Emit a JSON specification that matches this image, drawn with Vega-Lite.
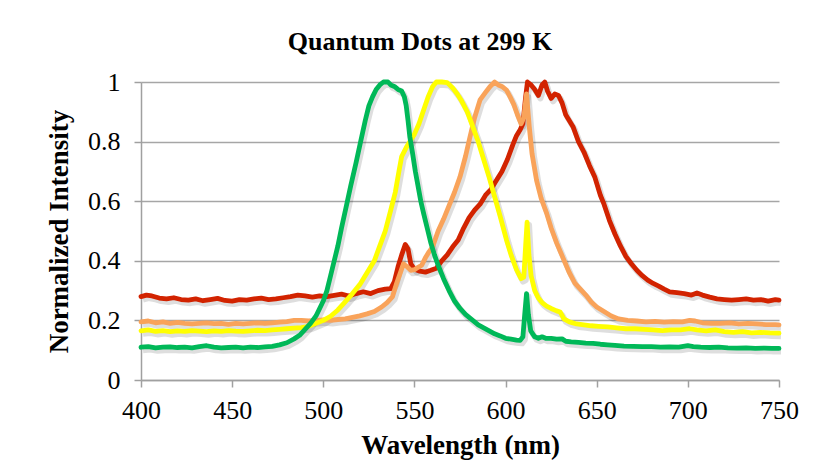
{
  "$schema": "https://vega.github.io/schema/vega-lite/v6.json",
  "width": 638,
  "height": 298,
  "autosize": "none",
  "padding": {"left": 141, "top": 82, "right": 38, "bottom": 88},
  "background": "white",
  "title": {
    "text": "Quantum Dots at 299 K",
    "font": "Liberation Serif",
    "fontSize": 26,
    "fontWeight": "bold",
    "color": "black",
    "anchor": "middle",
    "dx": -40,
    "baseline": "alphabetic",
    "offset": -7
  },
  "config": {
    "view": {"stroke": null},
    "axis": {
      "labelFont": "Liberation Serif",
      "labelFontSize": 26,
      "labelColor": "black",
      "labelFlush": false,
      "titleFont": "Liberation Serif",
      "titleFontSize": 27,
      "titleFontWeight": "bold",
      "titleColor": "black",
      "domainColor": "#a0a0a0",
      "domainWidth": 1.5,
      "tickColor": "#a0a0a0",
      "tickWidth": 1.5,
      "tickSize": 7,
      "gridColor": "#a6a6a6",
      "gridWidth": 1.5
    }
  },
  "data": {
    "values": [
      {"d":"Red","w":400,"i":0.28},{"d":"Red","w":403,"i":0.285},{"d":"Red","w":406,"i":0.282},{"d":"Red","w":410,"i":0.275},{"d":"Red","w":414,"i":0.272},{"d":"Red","w":418,"i":0.276},{"d":"Red","w":422,"i":0.27},{"d":"Red","w":426,"i":0.268},{"d":"Red","w":430,"i":0.272},{"d":"Red","w":434,"i":0.266},{"d":"Red","w":438,"i":0.27},{"d":"Red","w":442,"i":0.274},{"d":"Red","w":446,"i":0.267},{"d":"Red","w":450,"i":0.265},{"d":"Red","w":454,"i":0.27},{"d":"Red","w":458,"i":0.268},{"d":"Red","w":462,"i":0.272},{"d":"Red","w":466,"i":0.275},{"d":"Red","w":470,"i":0.27},{"d":"Red","w":474,"i":0.272},{"d":"Red","w":478,"i":0.276},{"d":"Red","w":482,"i":0.28},{"d":"Red","w":486,"i":0.285},{"d":"Red","w":490,"i":0.282},{"d":"Red","w":494,"i":0.278},{"d":"Red","w":498,"i":0.282},{"d":"Red","w":502,"i":0.28},{"d":"Red","w":506,"i":0.284},{"d":"Red","w":510,"i":0.288},{"d":"Red","w":514,"i":0.282},{"d":"Red","w":518,"i":0.29},{"d":"Red","w":522,"i":0.296},{"d":"Red","w":526,"i":0.29},{"d":"Red","w":530,"i":0.3},{"d":"Red","w":534,"i":0.305},{"d":"Red","w":537,"i":0.307},{"d":"Red","w":539,"i":0.33},{"d":"Red","w":541,"i":0.38},{"d":"Red","w":543,"i":0.42},{"d":"Red","w":545,"i":0.455},{"d":"Red","w":546.5,"i":0.44},{"d":"Red","w":548,"i":0.39},{"d":"Red","w":550,"i":0.372},{"d":"Red","w":553,"i":0.365},{"d":"Red","w":556,"i":0.362},{"d":"Red","w":559,"i":0.368},{"d":"Red","w":562,"i":0.375},{"d":"Red","w":565,"i":0.4},{"d":"Red","w":568,"i":0.42},{"d":"Red","w":571,"i":0.447},{"d":"Red","w":574,"i":0.47},{"d":"Red","w":577,"i":0.51},{"d":"Red","w":580,"i":0.545},{"d":"Red","w":583,"i":0.57},{"d":"Red","w":586,"i":0.59},{"d":"Red","w":589,"i":0.62},{"d":"Red","w":592,"i":0.64},{"d":"Red","w":595,"i":0.67},{"d":"Red","w":598,"i":0.7},{"d":"Red","w":601,"i":0.74},{"d":"Red","w":604,"i":0.79},{"d":"Red","w":606,"i":0.82},{"d":"Red","w":608,"i":0.84},{"d":"Red","w":609.5,"i":0.86},{"d":"Red","w":611,"i":0.95},{"d":"Red","w":612,"i":1.0},{"d":"Red","w":614,"i":0.99},{"d":"Red","w":616,"i":0.975},{"d":"Red","w":618,"i":0.955},{"d":"Red","w":620,"i":0.99},{"d":"Red","w":621.5,"i":1.0},{"d":"Red","w":623,"i":0.97},{"d":"Red","w":625,"i":0.945},{"d":"Red","w":627,"i":0.96},{"d":"Red","w":629,"i":0.955},{"d":"Red","w":631,"i":0.93},{"d":"Red","w":633,"i":0.89},{"d":"Red","w":635,"i":0.87},{"d":"Red","w":637,"i":0.85},{"d":"Red","w":640,"i":0.8},{"d":"Red","w":643,"i":0.765},{"d":"Red","w":646,"i":0.72},{"d":"Red","w":649,"i":0.68},{"d":"Red","w":652,"i":0.62},{"d":"Red","w":654,"i":0.59},{"d":"Red","w":657,"i":0.535},{"d":"Red","w":660,"i":0.49},{"d":"Red","w":663,"i":0.45},{"d":"Red","w":666,"i":0.415},{"d":"Red","w":669,"i":0.39},{"d":"Red","w":672,"i":0.368},{"d":"Red","w":675,"i":0.35},{"d":"Red","w":678,"i":0.335},{"d":"Red","w":681,"i":0.324},{"d":"Red","w":684,"i":0.315},{"d":"Red","w":687,"i":0.305},{"d":"Red","w":690,"i":0.296},{"d":"Red","w":694,"i":0.293},{"d":"Red","w":698,"i":0.29},{"d":"Red","w":702,"i":0.285},{"d":"Red","w":705,"i":0.292},{"d":"Red","w":708,"i":0.285},{"d":"Red","w":712,"i":0.278},{"d":"Red","w":716,"i":0.272},{"d":"Red","w":720,"i":0.27},{"d":"Red","w":724,"i":0.268},{"d":"Red","w":728,"i":0.27},{"d":"Red","w":732,"i":0.272},{"d":"Red","w":736,"i":0.268},{"d":"Red","w":740,"i":0.27},{"d":"Red","w":744,"i":0.265},{"d":"Red","w":748,"i":0.27},{"d":"Red","w":750,"i":0.268},

      {"d":"Orange","w":400,"i":0.195},{"d":"Orange","w":404,"i":0.198},{"d":"Orange","w":408,"i":0.192},{"d":"Orange","w":412,"i":0.195},{"d":"Orange","w":416,"i":0.19},{"d":"Orange","w":420,"i":0.193},{"d":"Orange","w":424,"i":0.19},{"d":"Orange","w":428,"i":0.188},{"d":"Orange","w":432,"i":0.19},{"d":"Orange","w":436,"i":0.192},{"d":"Orange","w":440,"i":0.189},{"d":"Orange","w":444,"i":0.19},{"d":"Orange","w":448,"i":0.187},{"d":"Orange","w":452,"i":0.19},{"d":"Orange","w":456,"i":0.188},{"d":"Orange","w":460,"i":0.19},{"d":"Orange","w":464,"i":0.192},{"d":"Orange","w":468,"i":0.19},{"d":"Orange","w":472,"i":0.192},{"d":"Orange","w":476,"i":0.194},{"d":"Orange","w":480,"i":0.196},{"d":"Orange","w":484,"i":0.2},{"d":"Orange","w":488,"i":0.2},{"d":"Orange","w":492,"i":0.198},{"d":"Orange","w":496,"i":0.2},{"d":"Orange","w":500,"i":0.202},{"d":"Orange","w":504,"i":0.2},{"d":"Orange","w":508,"i":0.203},{"d":"Orange","w":512,"i":0.205},{"d":"Orange","w":516,"i":0.21},{"d":"Orange","w":520,"i":0.215},{"d":"Orange","w":524,"i":0.222},{"d":"Orange","w":528,"i":0.23},{"d":"Orange","w":532,"i":0.245},{"d":"Orange","w":535,"i":0.26},{"d":"Orange","w":538,"i":0.28},{"d":"Orange","w":540,"i":0.32},{"d":"Orange","w":542,"i":0.355},{"d":"Orange","w":544,"i":0.39},{"d":"Orange","w":546,"i":0.38},{"d":"Orange","w":548,"i":0.368},{"d":"Orange","w":550,"i":0.37},{"d":"Orange","w":552,"i":0.378},{"d":"Orange","w":554,"i":0.385},{"d":"Orange","w":556,"i":0.41},{"d":"Orange","w":558,"i":0.43},{"d":"Orange","w":560,"i":0.447},{"d":"Orange","w":563,"i":0.5},{"d":"Orange","w":566,"i":0.54},{"d":"Orange","w":569,"i":0.585},{"d":"Orange","w":572,"i":0.63},{"d":"Orange","w":575,"i":0.682},{"d":"Orange","w":578,"i":0.75},{"d":"Orange","w":580.5,"i":0.816},{"d":"Orange","w":583,"i":0.88},{"d":"Orange","w":586,"i":0.94},{"d":"Orange","w":589,"i":0.965},{"d":"Orange","w":591.5,"i":0.985},{"d":"Orange","w":594,"i":1.0},{"d":"Orange","w":596,"i":0.99},{"d":"Orange","w":598,"i":0.985},{"d":"Orange","w":600.5,"i":0.973},{"d":"Orange","w":602.5,"i":0.95},{"d":"Orange","w":604.5,"i":0.925},{"d":"Orange","w":606.5,"i":0.89},{"d":"Orange","w":608.5,"i":0.86},{"d":"Orange","w":610,"i":0.88},{"d":"Orange","w":611.5,"i":0.96},{"d":"Orange","w":613,"i":0.85},{"d":"Orange","w":614.5,"i":0.76},{"d":"Orange","w":617,"i":0.67},{"d":"Orange","w":619.5,"i":0.61},{"d":"Orange","w":622.5,"i":0.56},{"d":"Orange","w":625,"i":0.51},{"d":"Orange","w":628,"i":0.46},{"d":"Orange","w":631.5,"i":0.41},{"d":"Orange","w":635,"i":0.36},{"d":"Orange","w":638,"i":0.325},{"d":"Orange","w":641,"i":0.305},{"d":"Orange","w":644,"i":0.285},{"d":"Orange","w":647,"i":0.262},{"d":"Orange","w":650,"i":0.245},{"d":"Orange","w":654,"i":0.23},{"d":"Orange","w":658,"i":0.215},{"d":"Orange","w":662,"i":0.205},{"d":"Orange","w":667,"i":0.2},{"d":"Orange","w":672,"i":0.198},{"d":"Orange","w":677,"i":0.195},{"d":"Orange","w":682,"i":0.197},{"d":"Orange","w":687,"i":0.194},{"d":"Orange","w":692,"i":0.196},{"d":"Orange","w":697,"i":0.195},{"d":"Orange","w":701,"i":0.2},{"d":"Orange","w":704,"i":0.198},{"d":"Orange","w":708,"i":0.192},{"d":"Orange","w":713,"i":0.19},{"d":"Orange","w":718,"i":0.19},{"d":"Orange","w":723,"i":0.192},{"d":"Orange","w":728,"i":0.188},{"d":"Orange","w":733,"i":0.19},{"d":"Orange","w":738,"i":0.188},{"d":"Orange","w":743,"i":0.186},{"d":"Orange","w":748,"i":0.186},{"d":"Orange","w":750,"i":0.185},

      {"d":"Yellow","w":400,"i":0.165},{"d":"Yellow","w":404,"i":0.168},{"d":"Yellow","w":408,"i":0.163},{"d":"Yellow","w":412,"i":0.166},{"d":"Yellow","w":416,"i":0.162},{"d":"Yellow","w":420,"i":0.165},{"d":"Yellow","w":424,"i":0.163},{"d":"Yellow","w":428,"i":0.166},{"d":"Yellow","w":432,"i":0.164},{"d":"Yellow","w":436,"i":0.162},{"d":"Yellow","w":440,"i":0.165},{"d":"Yellow","w":444,"i":0.163},{"d":"Yellow","w":448,"i":0.166},{"d":"Yellow","w":452,"i":0.164},{"d":"Yellow","w":456,"i":0.163},{"d":"Yellow","w":460,"i":0.165},{"d":"Yellow","w":464,"i":0.167},{"d":"Yellow","w":468,"i":0.166},{"d":"Yellow","w":472,"i":0.168},{"d":"Yellow","w":476,"i":0.17},{"d":"Yellow","w":480,"i":0.172},{"d":"Yellow","w":484,"i":0.174},{"d":"Yellow","w":488,"i":0.176},{"d":"Yellow","w":492,"i":0.18},{"d":"Yellow","w":496,"i":0.19},{"d":"Yellow","w":500,"i":0.2},{"d":"Yellow","w":504,"i":0.214},{"d":"Yellow","w":508,"i":0.235},{"d":"Yellow","w":512,"i":0.262},{"d":"Yellow","w":516,"i":0.29},{"d":"Yellow","w":520,"i":0.32},{"d":"Yellow","w":524,"i":0.36},{"d":"Yellow","w":528,"i":0.4},{"d":"Yellow","w":531,"i":0.45},{"d":"Yellow","w":534,"i":0.5},{"d":"Yellow","w":537,"i":0.57},{"d":"Yellow","w":539.5,"i":0.63},{"d":"Yellow","w":541.5,"i":0.7},{"d":"Yellow","w":543,"i":0.75},{"d":"Yellow","w":545.5,"i":0.78},{"d":"Yellow","w":548,"i":0.805},{"d":"Yellow","w":550,"i":0.825},{"d":"Yellow","w":552.5,"i":0.86},{"d":"Yellow","w":555,"i":0.905},{"d":"Yellow","w":557.5,"i":0.95},{"d":"Yellow","w":560,"i":0.985},{"d":"Yellow","w":562,"i":1.0},{"d":"Yellow","w":565,"i":1.0},{"d":"Yellow","w":568,"i":0.998},{"d":"Yellow","w":571,"i":0.98},{"d":"Yellow","w":573.5,"i":0.96},{"d":"Yellow","w":576,"i":0.935},{"d":"Yellow","w":579,"i":0.9},{"d":"Yellow","w":582,"i":0.85},{"d":"Yellow","w":585,"i":0.8},{"d":"Yellow","w":588,"i":0.74},{"d":"Yellow","w":591,"i":0.68},{"d":"Yellow","w":594,"i":0.615},{"d":"Yellow","w":597,"i":0.55},{"d":"Yellow","w":600.5,"i":0.47},{"d":"Yellow","w":603,"i":0.42},{"d":"Yellow","w":606,"i":0.37},{"d":"Yellow","w":608.5,"i":0.34},{"d":"Yellow","w":610,"i":0.345},{"d":"Yellow","w":611,"i":0.45},{"d":"Yellow","w":611.8,"i":0.53},{"d":"Yellow","w":612.8,"i":0.42},{"d":"Yellow","w":614,"i":0.35},{"d":"Yellow","w":616,"i":0.3},{"d":"Yellow","w":618,"i":0.275},{"d":"Yellow","w":620,"i":0.26},{"d":"Yellow","w":622.5,"i":0.248},{"d":"Yellow","w":625,"i":0.24},{"d":"Yellow","w":628,"i":0.232},{"d":"Yellow","w":630,"i":0.228},{"d":"Yellow","w":632,"i":0.205},{"d":"Yellow","w":635,"i":0.195},{"d":"Yellow","w":639,"i":0.188},{"d":"Yellow","w":643,"i":0.185},{"d":"Yellow","w":647,"i":0.182},{"d":"Yellow","w":651,"i":0.18},{"d":"Yellow","w":656,"i":0.178},{"d":"Yellow","w":661,"i":0.175},{"d":"Yellow","w":666,"i":0.172},{"d":"Yellow","w":671,"i":0.172},{"d":"Yellow","w":676,"i":0.17},{"d":"Yellow","w":681,"i":0.168},{"d":"Yellow","w":686,"i":0.166},{"d":"Yellow","w":691,"i":0.168},{"d":"Yellow","w":696,"i":0.168},{"d":"Yellow","w":701,"i":0.172},{"d":"Yellow","w":705,"i":0.168},{"d":"Yellow","w":710,"i":0.165},{"d":"Yellow","w":715,"i":0.168},{"d":"Yellow","w":720,"i":0.162},{"d":"Yellow","w":725,"i":0.16},{"d":"Yellow","w":730,"i":0.162},{"d":"Yellow","w":735,"i":0.158},{"d":"Yellow","w":740,"i":0.16},{"d":"Yellow","w":745,"i":0.158},{"d":"Yellow","w":750,"i":0.157},

      {"d":"Green","w":400,"i":0.11},{"d":"Green","w":404,"i":0.112},{"d":"Green","w":408,"i":0.108},{"d":"Green","w":412,"i":0.11},{"d":"Green","w":416,"i":0.111},{"d":"Green","w":420,"i":0.109},{"d":"Green","w":424,"i":0.11},{"d":"Green","w":428,"i":0.108},{"d":"Green","w":432,"i":0.112},{"d":"Green","w":436,"i":0.115},{"d":"Green","w":440,"i":0.11},{"d":"Green","w":444,"i":0.108},{"d":"Green","w":448,"i":0.109},{"d":"Green","w":452,"i":0.11},{"d":"Green","w":456,"i":0.108},{"d":"Green","w":460,"i":0.11},{"d":"Green","w":464,"i":0.109},{"d":"Green","w":468,"i":0.111},{"d":"Green","w":472,"i":0.113},{"d":"Green","w":476,"i":0.118},{"d":"Green","w":480,"i":0.125},{"d":"Green","w":484,"i":0.138},{"d":"Green","w":487,"i":0.15},{"d":"Green","w":490,"i":0.17},{"d":"Green","w":493,"i":0.19},{"d":"Green","w":496,"i":0.215},{"d":"Green","w":498,"i":0.24},{"d":"Green","w":500,"i":0.265},{"d":"Green","w":502,"i":0.3},{"d":"Green","w":504,"i":0.35},{"d":"Green","w":506,"i":0.4},{"d":"Green","w":508,"i":0.45},{"d":"Green","w":510,"i":0.51},{"d":"Green","w":512.5,"i":0.58},{"d":"Green","w":515,"i":0.65},{"d":"Green","w":518,"i":0.73},{"d":"Green","w":520.5,"i":0.8},{"d":"Green","w":523,"i":0.87},{"d":"Green","w":525,"i":0.92},{"d":"Green","w":527,"i":0.95},{"d":"Green","w":529,"i":0.975},{"d":"Green","w":531,"i":0.99},{"d":"Green","w":533,"i":1.0},{"d":"Green","w":535.5,"i":1.0},{"d":"Green","w":537,"i":0.99},{"d":"Green","w":539,"i":0.985},{"d":"Green","w":541,"i":0.975},{"d":"Green","w":543,"i":0.97},{"d":"Green","w":544.5,"i":0.95},{"d":"Green","w":545.5,"i":0.92},{"d":"Green","w":546.5,"i":0.87},{"d":"Green","w":547.5,"i":0.815},{"d":"Green","w":549,"i":0.76},{"d":"Green","w":550.5,"i":0.7},{"d":"Green","w":552,"i":0.65},{"d":"Green","w":553.5,"i":0.6},{"d":"Green","w":555,"i":0.56},{"d":"Green","w":557,"i":0.51},{"d":"Green","w":559,"i":0.46},{"d":"Green","w":561,"i":0.42},{"d":"Green","w":563,"i":0.385},{"d":"Green","w":566,"i":0.34},{"d":"Green","w":569,"i":0.3},{"d":"Green","w":572,"i":0.265},{"d":"Green","w":575,"i":0.24},{"d":"Green","w":578,"i":0.22},{"d":"Green","w":582,"i":0.2},{"d":"Green","w":585,"i":0.185},{"d":"Green","w":588,"i":0.175},{"d":"Green","w":591,"i":0.165},{"d":"Green","w":594,"i":0.155},{"d":"Green","w":597,"i":0.148},{"d":"Green","w":600,"i":0.14},{"d":"Green","w":603,"i":0.137},{"d":"Green","w":606,"i":0.134},{"d":"Green","w":608,"i":0.133},{"d":"Green","w":609.5,"i":0.145},{"d":"Green","w":610.5,"i":0.22},{"d":"Green","w":611.5,"i":0.29},{"d":"Green","w":612.5,"i":0.22},{"d":"Green","w":613.8,"i":0.165},{"d":"Green","w":616,"i":0.145},{"d":"Green","w":618,"i":0.14},{"d":"Green","w":620,"i":0.145},{"d":"Green","w":622,"i":0.14},{"d":"Green","w":625,"i":0.14},{"d":"Green","w":628,"i":0.137},{"d":"Green","w":631,"i":0.138},{"d":"Green","w":633,"i":0.13},{"d":"Green","w":636,"i":0.128},{"d":"Green","w":640,"i":0.126},{"d":"Green","w":644,"i":0.124},{"d":"Green","w":648,"i":0.123},{"d":"Green","w":652,"i":0.12},{"d":"Green","w":656,"i":0.118},{"d":"Green","w":660,"i":0.116},{"d":"Green","w":665,"i":0.114},{"d":"Green","w":670,"i":0.113},{"d":"Green","w":675,"i":0.112},{"d":"Green","w":680,"i":0.112},{"d":"Green","w":685,"i":0.11},{"d":"Green","w":690,"i":0.111},{"d":"Green","w":695,"i":0.11},{"d":"Green","w":700,"i":0.115},{"d":"Green","w":703,"i":0.112},{"d":"Green","w":707,"i":0.11},{"d":"Green","w":712,"i":0.109},{"d":"Green","w":717,"i":0.11},{"d":"Green","w":722,"i":0.108},{"d":"Green","w":727,"i":0.107},{"d":"Green","w":732,"i":0.108},{"d":"Green","w":737,"i":0.106},{"d":"Green","w":742,"i":0.107},{"d":"Green","w":746,"i":0.106},{"d":"Green","w":750,"i":0.106}
    ]
  },
  "encoding": {
    "x": {
      "field": "w",
      "type": "quantitative",
      "scale": {"domain": [400, 750], "nice": false},
      "axis": {
        "title": "Wavelength (nm)",
        "values": [400, 450, 500, 550, 600, 650, 700, 750],
        "grid": false,
        "labelPadding": 10,
        "titlePadding": 9
      }
    },
    "y": {
      "field": "i",
      "type": "quantitative",
      "scale": {"domain": [0, 1], "nice": false},
      "axis": {
        "title": "Normalized Intensity",
        "values": [0, 0.2, 0.4, 0.6, 0.8, 1],
        "format": "~g",
        "grid": true,
        "labelPadding": 14,
        "titlePadding": 14
      }
    }
  },
  "layer": [
    {
      "mark": {"type": "line", "color": "black", "opacity": 0.13, "strokeWidth": 6, "xOffset": 2, "yOffset": 3, "strokeJoin": "round"},
      "encoding": {"detail": {"field": "d"}}
    },
    {
      "mark": {"type": "line", "strokeWidth": 4.8, "strokeJoin": "round", "strokeCap": "round"},
      "encoding": {
        "color": {
          "field": "d",
          "type": "nominal",
          "scale": {"domain": ["Red", "Orange", "Yellow", "Green"], "range": ["#d22300", "#f9a35a", "#ffff00", "#00b858"]},
          "legend": null
        }
      }
    }
  ]
}
